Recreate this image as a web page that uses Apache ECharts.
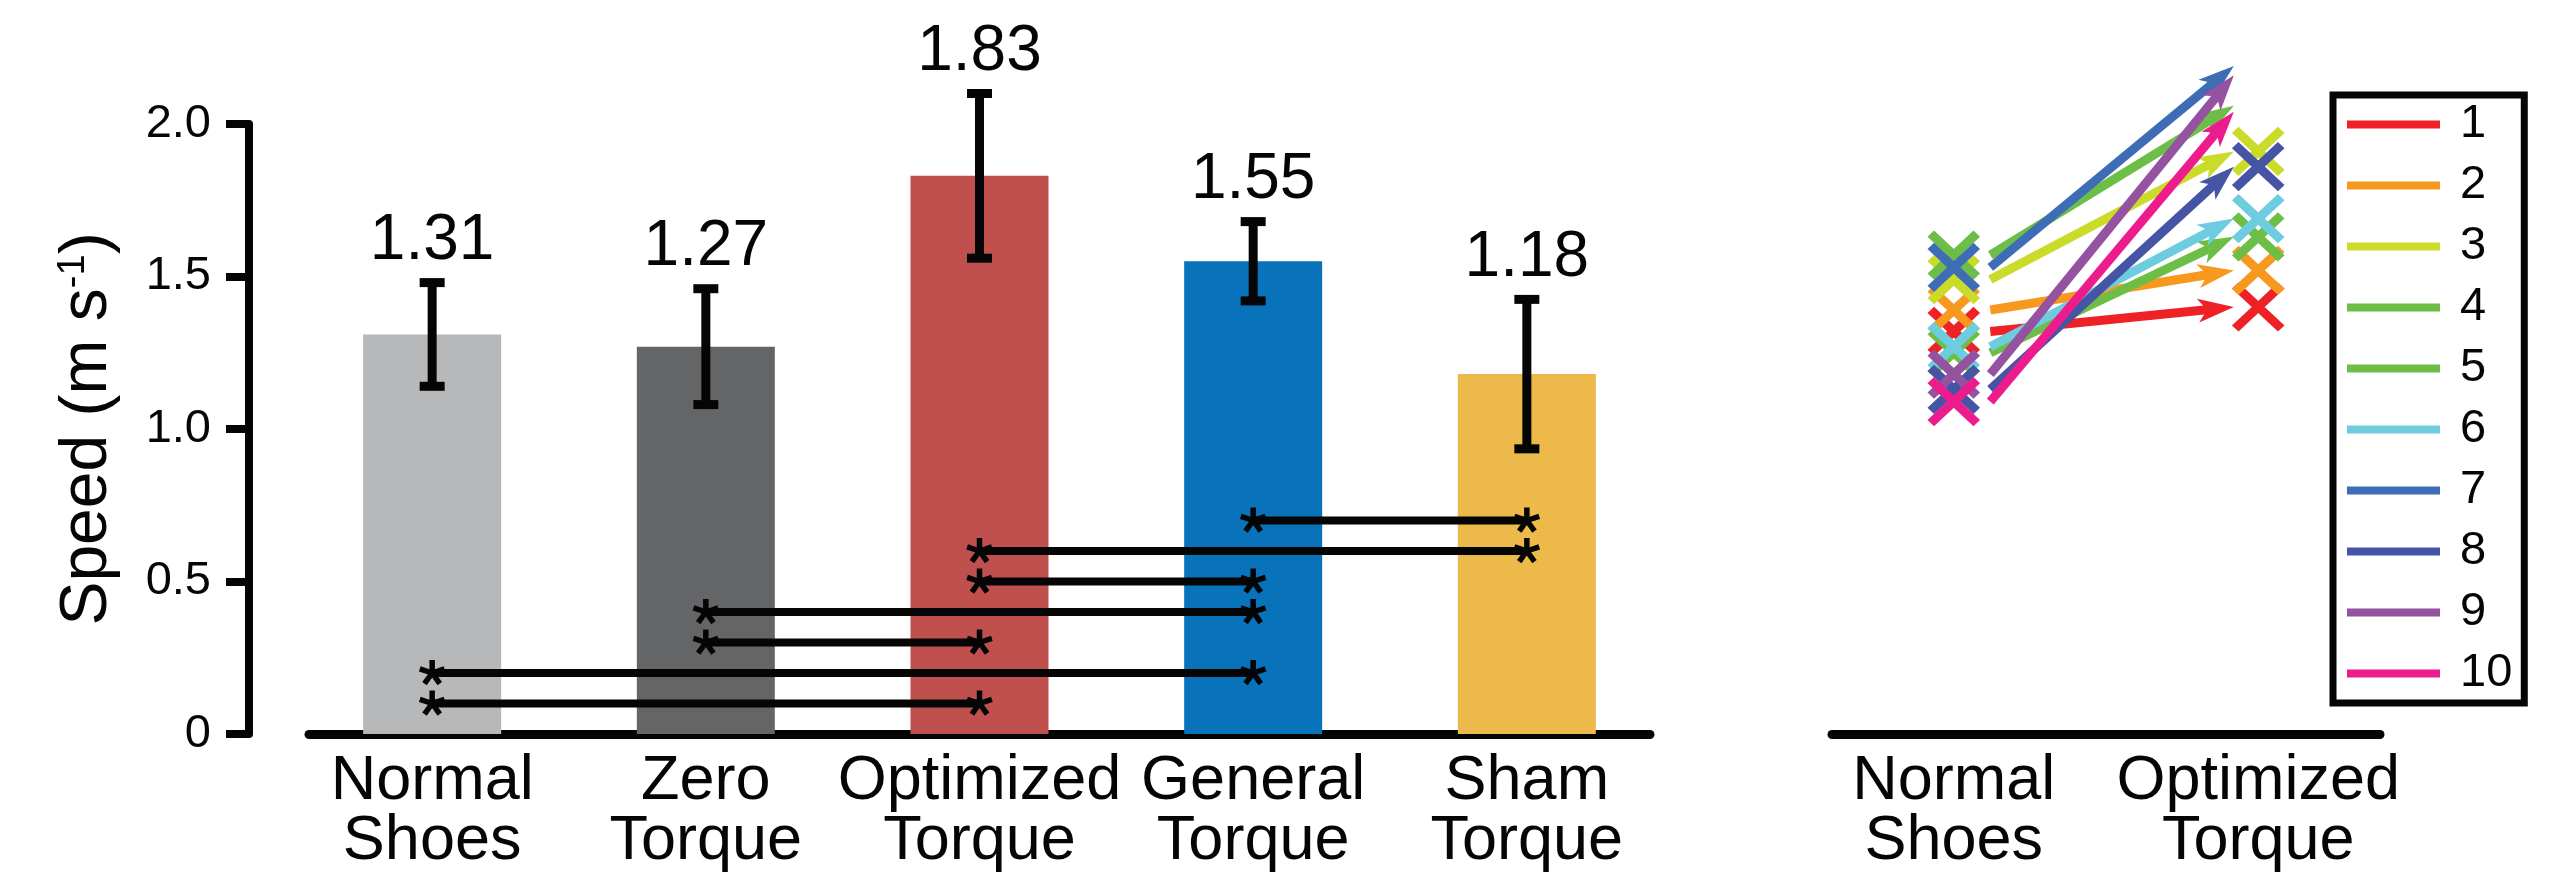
<!DOCTYPE html>
<html>
<head>
<meta charset="utf-8">
<script src="https://cdn.jsdelivr.net/npm/echarts@6/dist/echarts.min.js"></script>
<style>
  html, body { margin: 0; padding: 0; background: #ffffff; }
  #chart { width: 2573px; height: 883px; }
</style>
</head>
<body>
<div id="chart"></div>
<script>
// Walking speed per condition (mean and SD)
const conditions = ['Normal\nShoes', 'Zero\nTorque', 'Optimized\nTorque', 'General\nTorque', 'Sham\nTorque'];
const meanSpeed = [1.31, 1.27, 1.83, 1.55, 1.18];
const speedSD = [0.17, 0.19, 0.27, 0.13, 0.245];
const barColors = ['#B7B8BA', '#646567', '#C0504D', '#0873BA', '#EDB94A'];

// Significant differences: [condition a, condition b, bracket height]
const sigPairs = [
  [4, 5, 0.7],
  [3, 5, 0.6],
  [3, 4, 0.5],
  [2, 4, 0.4],
  [2, 3, 0.3],
  [1, 4, 0.2],
  [1, 3, 0.1]
];

// Individual subjects: normal shoes vs optimized torque
const subjects = ['1', '2', '3', '4', '5', '6', '7', '8', '9', '10'];
const subjectColors = ['#EE2127', '#F7991F', '#CBDB2A', '#6DBE47', '#6DBE47',
                       '#6DCCDD', '#3E6DB5', '#4554A5', '#9452A0', '#EC1C8C'];
const speedNormal = [1.32, 1.39, 1.49, 1.57, 1.25, 1.27, 1.53, 1.13, 1.18, 1.09];
const speedOptimized = [1.40, 1.52, 1.91, 2.06, 1.63, 1.69, 2.19, 1.86, 2.16, 2.04];
const pairedLabels = ['Normal\nShoes', 'Optimized\nTorque'];

const FONT = '"Liberation Sans", Arial, Helvetica, sans-serif';
const INK = '#050505';

function asterisk(p) {
  const r = 13;
  const parts = [];
  for (let k = 0; k < 5; k++) {
    const ang = (-90 + 72 * k) * Math.PI / 180;
    parts.push({
      type: 'line',
      shape: { x1: p[0], y1: p[1], x2: p[0] + r * Math.cos(ang), y2: p[1] + r * Math.sin(ang) },
      style: { stroke: INK, lineWidth: 5.5 }
    });
  }
  return { type: 'group', children: parts };
}

const chart = echarts.init(document.getElementById('chart'), null, { renderer: 'canvas' });

const scatterSeries = subjects.map((s, i) => ({
  type: 'scatter',
  name: s,
  xAxisIndex: 1,
  yAxisIndex: 1,
  data: [[1, speedNormal[i]], [2, speedOptimized[i]]],
  symbol: 'path://M0,0L10,10M10,0L0,10',
  symbolSize: [46, 43],
  itemStyle: { color: 'none', borderColor: subjectColors[i], borderWidth: 9, opacity: 1 },
  emphasis: { disabled: true },
  z: 3
}));

const option = {
  backgroundColor: '#ffffff',
  animation: false,
  textStyle: { fontFamily: FONT, color: INK },
  grid: [
    { left: 309, top: 124, width: 1341, height: 610 },
    { left: 1832, top: 124, width: 548, height: 610 }
  ],
  xAxis: [
    {
      gridIndex: 0, type: 'value', min: 0.55, max: 5.45,
      axisLine: { show: true, onZero: true, lineStyle: { color: INK, width: 9 } },
      axisTick: { show: false },
      splitLine: { show: false },
      axisLabel: {
        customValues: [1, 2, 3, 4, 5],
        formatter: v => conditions[Math.round(v) - 1],
        fontSize: 63, lineHeight: 60, color: INK, fontFamily: FONT, margin: 18
      }
    },
    {
      gridIndex: 1, type: 'value', min: 0.6, max: 2.4,
      axisLine: { show: true, onZero: true, lineStyle: { color: INK, width: 9 } },
      axisTick: { show: false },
      splitLine: { show: false },
      axisLabel: {
        customValues: [1, 2],
        formatter: v => pairedLabels[Math.round(v) - 1],
        fontSize: 63, lineHeight: 60, color: INK, fontFamily: FONT, margin: 18
      }
    }
  ],
  yAxis: [
    {
      gridIndex: 0, type: 'value', min: 0, max: 2, interval: 0.5, offset: 60,
      axisLine: { show: true, lineStyle: { color: INK, width: 8 } },
      axisTick: { show: true, length: 23, lineStyle: { color: INK, width: 8 } },
      splitLine: { show: false },
      axisLabel: {
        fontSize: 47, color: INK, fontFamily: FONT, margin: 38,
        formatter: v => (v === 0 ? '0' : v.toFixed(1))
      },
      name: 'Speed (m s{sup|-1})',
      nameLocation: 'middle',
      nameGap: 128,
      nameTextStyle: {
        fontSize: 66, color: INK, fontFamily: FONT,
        rich: { sup: { fontSize: 38, verticalAlign: 'top', color: INK, fontFamily: FONT } }
      }
    },
    { gridIndex: 1, type: 'value', min: 0, max: 2, show: false }
  ],
  legend: {
    orient: 'vertical',
    left: 2333,
    top: 95,
    data: subjects.map((s, i) => ({
      name: s, icon: 'rect',
      itemStyle: { color: subjectColors[i], borderWidth: 0 }
    })),
    itemWidth: 93,
    itemHeight: 8,
    itemGap: 14,
    padding: [6, 12, 6, 14],
    borderColor: INK,
    borderWidth: 7,
    selectedMode: false,
    textStyle: { fontSize: 47, lineHeight: 47, color: INK, fontFamily: FONT, padding: [0, 0, 0, 15] }
  },
  series: [
    {
      type: 'bar',
      xAxisIndex: 0, yAxisIndex: 0,
      barWidth: 138,
      data: meanSpeed.map((v, i) => ({ value: [i + 1, v], itemStyle: { color: barColors[i] } })),
      emphasis: { disabled: true },
      z: 2
    },
    {
      // error bars with the mean written above
      type: 'custom',
      xAxisIndex: 0, yAxisIndex: 0,
      clip: false,
      z: 3,
      data: meanSpeed.map((m, i) => [i + 1, m, speedSD[i]]),
      encode: { x: 0, y: 1 },
      renderItem(params, api) {
        const x = api.value(0), m = api.value(1), e = api.value(2);
        const top = api.coord([x, m + e]);
        const bot = api.coord([x, m - e]);
        const cw = 12.5;
        const st = { stroke: INK, lineWidth: 9 };
        return {
          type: 'group',
          children: [
            { type: 'line', shape: { x1: top[0], y1: top[1], x2: bot[0], y2: bot[1] }, style: st },
            { type: 'line', shape: { x1: top[0] - cw, y1: top[1], x2: top[0] + cw, y2: top[1] }, style: st },
            { type: 'line', shape: { x1: bot[0] - cw, y1: bot[1], x2: bot[0] + cw, y2: bot[1] }, style: st },
            {
              type: 'text',
              style: {
                text: m.toFixed(2), x: top[0], y: top[1] - 41,
                align: 'center', verticalAlign: 'middle',
                fontSize: 64, fontFamily: FONT, fill: INK
              }
            }
          ]
        };
      }
    },
    {
      // significance brackets
      type: 'custom',
      xAxisIndex: 0, yAxisIndex: 0,
      clip: false,
      z: 4,
      data: sigPairs,
      encode: { x: [0, 1], y: 2 },
      renderItem(params, api) {
        const h = api.value(2);
        const a = api.coord([api.value(0), h]);
        const b = api.coord([api.value(1), h]);
        return {
          type: 'group',
          children: [
            { type: 'line', shape: { x1: a[0], y1: a[1], x2: b[0], y2: b[1] }, style: { stroke: INK, lineWidth: 8 } },
            asterisk(a),
            asterisk(b)
          ]
        };
      }
    },
    {
      // arrows from normal shoes to optimized torque for each subject
      type: 'custom',
      xAxisIndex: 1, yAxisIndex: 1,
      clip: false,
      z: 2,
      data: subjects.map((s, i) => [speedNormal[i], speedOptimized[i], i]),
      encode: { y: [0, 1] },
      renderItem(params, api) {
        const a = api.coord([1.12, api.value(0)]);
        const b = api.coord([1.92, api.value(1)]);
        const c = subjectColors[api.value(2)];
        const dx = b[0] - a[0], dy = b[1] - a[1];
        const L = Math.hypot(dx, dy);
        const ux = dx / L, uy = dy / L, nx = -uy, ny = ux;
        const hl = 36, hw = 12, notch = 9;
        const back = [b[0] - ux * hl, b[1] - uy * hl];
        const mid = [b[0] - ux * (hl - notch), b[1] - uy * (hl - notch)];
        return {
          type: 'group',
          children: [
            { type: 'line', shape: { x1: a[0], y1: a[1], x2: mid[0], y2: mid[1] }, style: { stroke: c, lineWidth: 9 } },
            {
              type: 'polygon',
              shape: { points: [b, [back[0] + nx * hw, back[1] + ny * hw], mid, [back[0] - nx * hw, back[1] - ny * hw]] },
              style: { fill: c }
            }
          ]
        };
      }
    }
  ].concat(scatterSeries)
};

chart.setOption(option);
</script>
</body>
</html>
